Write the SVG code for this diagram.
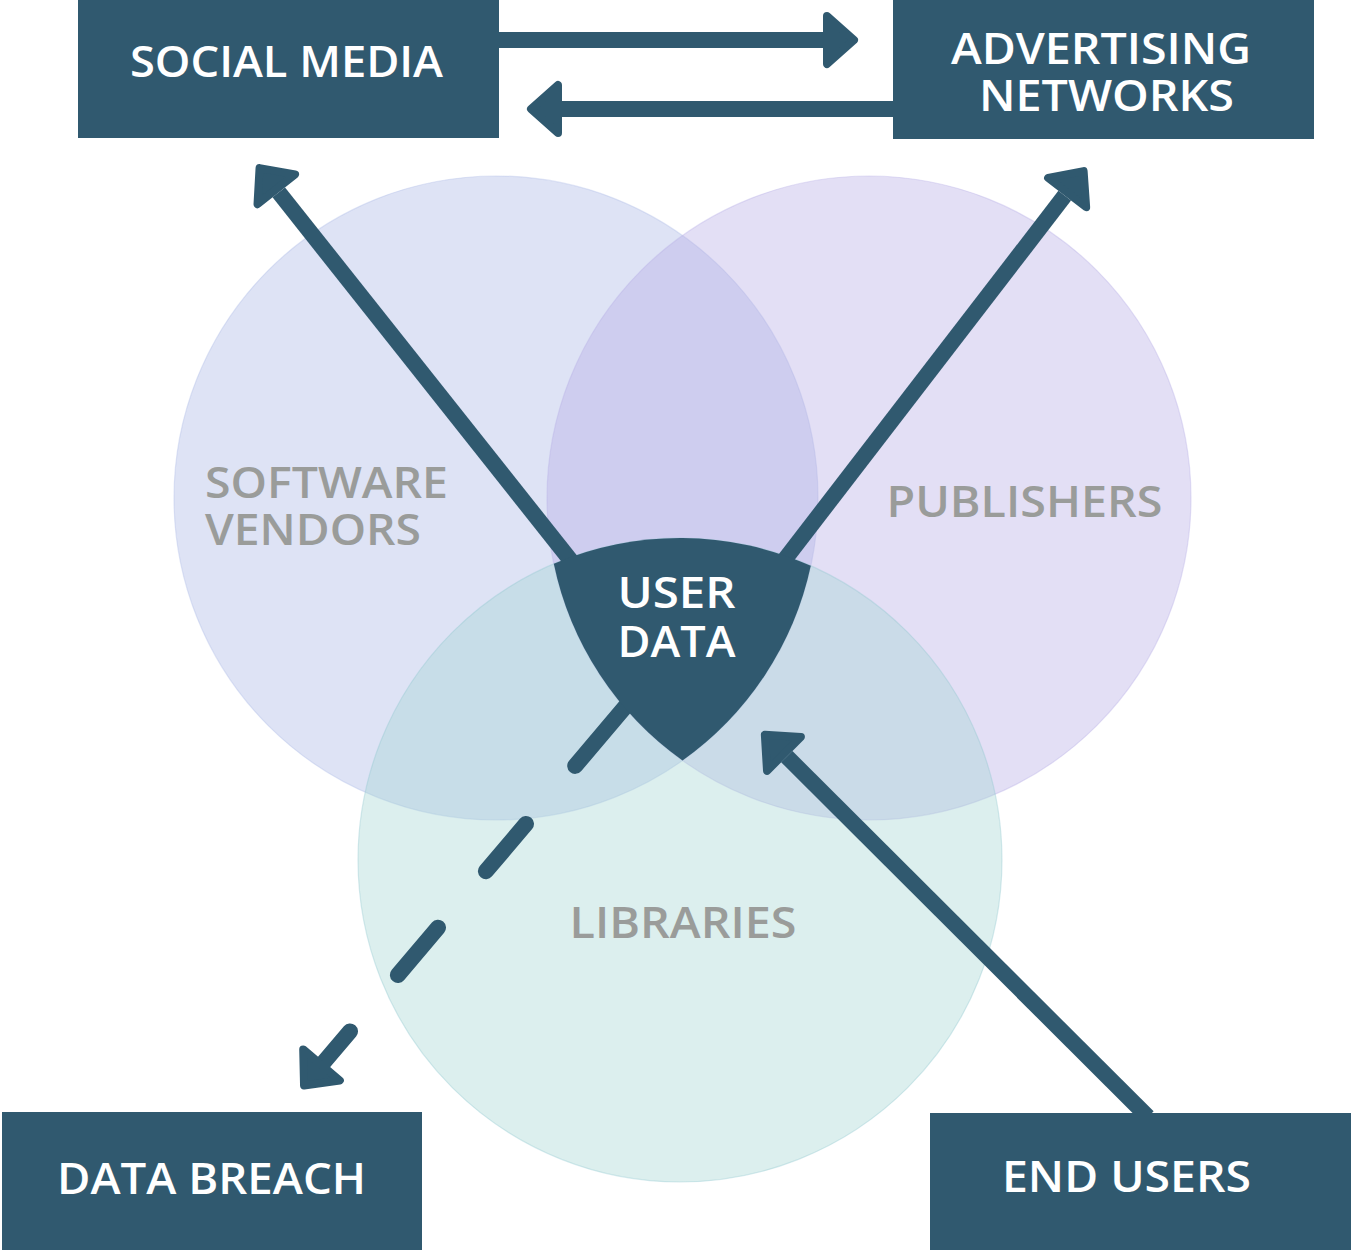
<svg xmlns="http://www.w3.org/2000/svg" width="1353" height="1252" viewBox="0 0 1353 1252">
  <style>
    .box { fill: #30596f; }
    .label { font-family: "Open Sans", "Liberation Sans", sans-serif; font-weight: 600; font-size: 44px; text-anchor: middle; }
    .light { fill: #ffffff; }
    .muted { fill: #9a9c9a; }
    .set { fill-opacity: 0.38; stroke-opacity: 0.35; stroke-width: 1.2; }
    .link { fill: none; stroke: #30596f; stroke-width: 16; stroke-linecap: butt; marker-end: url(#head); }
    .dashed { stroke-linecap: round; }
  </style>
  <defs>
    <!-- rounded arrowhead; the line ends at the back of the head -->
    <marker id="head" markerUnits="userSpaceOnUse" viewBox="-2 -32 40 64" refX="0" refY="0" markerWidth="40" markerHeight="64" orient="auto" overflow="visible">
      <path d="M4,-24 L31,0 L4,24 Z" fill="#30596f" stroke="#30596f" stroke-width="8" stroke-linejoin="round"/>
    </marker>
  </defs>

  <rect width="1353" height="1252" fill="#ffffff"/>

  <!-- overlapping sets -->
  <g id="software-vendors">
    <circle class="set" cx="496" cy="498" r="322" fill="#a8b6e4" stroke="#a8b6e4"/>
    <text class="label muted" x="205" y="498" style="text-anchor:start" textLength="243" lengthAdjust="spacingAndGlyphs">SOFTWARE</text>
    <text class="label muted" x="205" y="545" style="text-anchor:start" textLength="216" lengthAdjust="spacingAndGlyphs">VENDORS</text>
  </g>
  <g id="publishers">
    <circle class="set" cx="869" cy="498" r="322" fill="#b5abe5" stroke="#b5abe5"/>
    <text class="label muted" x="1024.5" y="517" textLength="276" lengthAdjust="spacingAndGlyphs">PUBLISHERS</text>
  </g>
  <g id="libraries">
    <circle class="set" cx="680" cy="860" r="322" fill="#a3d5d2" stroke="#8cc6cf"/>
    <text class="label muted" x="683" y="938" textLength="227" lengthAdjust="spacingAndGlyphs">LIBRARIES</text>
  </g>

  <!-- connectors -->
  <g id="connectors">
    <path class="link" d="M499,40 L823,40"/>
    <path class="link" d="M893,109 L562,109"/>
    <path class="link" d="M679,697 L278.8,192.4"/>
    <path class="link" d="M679,697 L1064.7,195.7"/>
    <path class="link" d="M1148,1117 L786.8,756.7"/>
    <path class="link dashed" d="M680,642 L575.2,765.9 M526,823.9 L485.9,871.2 M438,927.7 L397.9,975 M350,1031.4 L324.1,1061.9"/>
  </g>

  <!-- centre: where all three sets meet -->
  <g id="user-data">
    <path class="box" d="M553.8,563.8 A322,322 0 0 1 810.8,565.8 A322,322 0 0 1 682.5,760.5 A322,322 0 0 1 553.8,563.8 Z"/>
    <text class="label light" x="676.5" y="608" textLength="118" lengthAdjust="spacingAndGlyphs">USER</text>
    <text class="label light" x="676.5" y="657" textLength="118" lengthAdjust="spacingAndGlyphs">DATA</text>
  </g>

  <g id="social-media">
    <rect class="box" x="78" y="0" width="421" height="138"/>
    <text class="label light" x="286.5" y="77" textLength="313" lengthAdjust="spacingAndGlyphs">SOCIAL MEDIA</text>
  </g>
  <g id="advertising-networks">
    <rect class="box" x="893" y="0" width="421" height="139"/>
    <text class="label light" x="1101" y="64" textLength="300" lengthAdjust="spacingAndGlyphs">ADVERTISING</text>
    <text class="label light" x="1106.5" y="111" textLength="255" lengthAdjust="spacingAndGlyphs">NETWORKS</text>
  </g>
  <g id="data-breach">
    <rect class="box" x="2" y="1112" width="420" height="138"/>
    <text class="label light" x="211.5" y="1194" textLength="309" lengthAdjust="spacingAndGlyphs">DATA BREACH</text>
  </g>
  <g id="end-users">
    <rect class="box" x="930" y="1113" width="421" height="137"/>
    <text class="label light" x="1126.5" y="1192" textLength="249" lengthAdjust="spacingAndGlyphs">END USERS</text>
  </g>
</svg>
